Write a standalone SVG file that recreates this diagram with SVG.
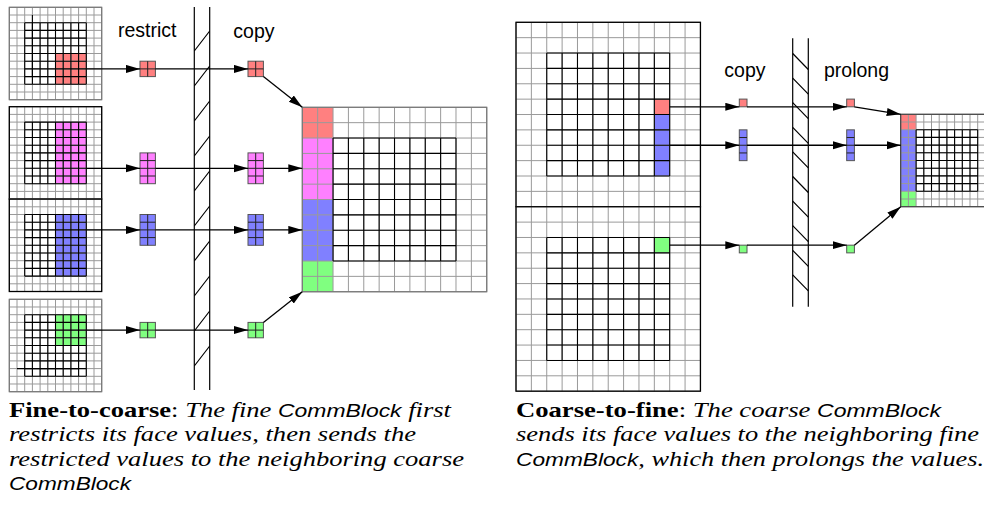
<svg xmlns="http://www.w3.org/2000/svg" xmlns:xlink="http://www.w3.org/1999/xlink" width="984" height="523" viewBox="0 0 984 523">
<style>
.g{stroke:#9a9a9a;stroke-width:1;fill:none}
.k{stroke:#000;stroke-width:1.1;fill:none}
.bd{fill:none;stroke:#777;stroke-width:1.2}
.bk{fill:none;stroke:#000;stroke-width:1.3}
.sb{stroke:#555;stroke-width:1}
.sl{stroke:#222;stroke-width:1;fill:none}
.conn{stroke:#000;stroke-width:1.3;fill:none;marker-end:url(#ah)}
.wall{stroke:#000;stroke-width:1.2;fill:none}
.lbl{font-family:"Liberation Sans",Arial,sans-serif;font-size:19.5px;fill:#000}
.cap{font-family:"Liberation Serif","Times New Roman",serif;font-size:22px;font-style:italic;fill:#000}
.b{font-weight:bold;font-style:normal}
.n{font-style:normal}
.cb{font-family:"Liberation Sans",Arial,sans-serif;font-style:italic;font-size:19px}
.r{fill:#ff8080}.m{fill:#ff80ff}.u{fill:#8080ff}.e{fill:#80ff80}
</style>
<defs>
<marker id="ah" markerUnits="userSpaceOnUse" markerWidth="15" markerHeight="9" refX="14" refY="4" orient="auto"><path d="M0,0L14,4L0,8z" fill="#000"/></marker>
<path id="fg12" class="g" d="M0,0v92.4m7.7,-92.4v92.4m7.7,-92.4v92.4m7.7,-92.4v92.4m7.7,-92.4v92.4m7.7,-92.4v92.4m7.7,-92.4v92.4m7.7,-92.4v92.4m7.7,-92.4v92.4m7.7,-92.4v92.4m7.7,-92.4v92.4m7.7,-92.4v92.4m7.7,-92.4v92.4M0,0h92.4m-92.4,7.7h92.4m-92.4,7.7h92.4m-92.4,7.7h92.4m-92.4,7.7h92.4m-92.4,7.7h92.4m-92.4,7.7h92.4m-92.4,7.7h92.4m-92.4,7.7h92.4m-92.4,7.7h92.4m-92.4,7.7h92.4m-92.4,7.7h92.4m-92.4,7.7h92.4"/>
<path id="fi8" class="k" d="M0,0v61.6m7.7,-61.6v61.6m7.7,-61.6v61.6m7.7,-61.6v61.6m7.7,-61.6v61.6m7.7,-61.6v61.6m7.7,-61.6v61.6m7.7,-61.6v61.6m7.7,-61.6v61.6M0,0h61.6m-61.6,7.7h61.6m-61.6,7.7h61.6m-61.6,7.7h61.6m-61.6,7.7h61.6m-61.6,7.7h61.6m-61.6,7.7h61.6m-61.6,7.7h61.6m-61.6,7.7h61.6"/>
<path id="cg12" class="g" d="M0,0v184.44m15.37,-184.44v184.44m15.37,-184.44v184.44m15.37,-184.44v184.44m15.37,-184.44v184.44m15.37,-184.44v184.44m15.37,-184.44v184.44m15.37,-184.44v184.44m15.37,-184.44v184.44m15.37,-184.44v184.44m15.37,-184.44v184.44m15.37,-184.44v184.44m15.37,-184.44v184.44M0,0h184.44m-184.44,15.37h184.44m-184.44,15.37h184.44m-184.44,15.37h184.44m-184.44,15.37h184.44m-184.44,15.37h184.44m-184.44,15.37h184.44m-184.44,15.37h184.44m-184.44,15.37h184.44m-184.44,15.37h184.44m-184.44,15.37h184.44m-184.44,15.37h184.44m-184.44,15.37h184.44"/>
<path id="ci8" class="k" d="M0,0v122.96m15.37,-122.96v122.96m15.37,-122.96v122.96m15.37,-122.96v122.96m15.37,-122.96v122.96m15.37,-122.96v122.96m15.37,-122.96v122.96m15.37,-122.96v122.96m15.37,-122.96v122.96M0,0h122.96m-122.96,15.37h122.96m-122.96,15.37h122.96m-122.96,15.37h122.96m-122.96,15.37h122.96m-122.96,15.37h122.96m-122.96,15.37h122.96m-122.96,15.37h122.96m-122.96,15.37h122.96"/>
</defs>
<rect width="984" height="523" fill="#fff"/>

<!-- Left panel fine blocks -->
<g id="fine-red" transform="translate(9.3,7.3)">
<rect width="92.4" height="92.4" fill="#fff"/>
<rect class="r" x="46.2" y="46.2" width="30.8" height="30.8"/>
<use xlink:href="#fg12"/>
<use xlink:href="#fi8" x="15.4" y="15.4"/>
<path class="k" d="M23.1,7.7V69.3"/>
<rect class="bd" width="92.4" height="92.4"/>
</g>
<g id="fine-magenta" transform="translate(9.3,106.7)">
<rect width="92.4" height="92.4" fill="#fff"/>
<rect class="m" x="46.2" y="15.4" width="30.8" height="61.6"/>
<use xlink:href="#fg12"/>
<use xlink:href="#fi8" x="15.4" y="15.4"/>
<rect class="bk" width="92.4" height="92.4"/>
</g>
<g id="fine-blue" transform="translate(9.3,199.1)">
<rect width="92.4" height="92.4" fill="#fff"/>
<rect class="u" x="46.2" y="15.4" width="30.8" height="61.6"/>
<use xlink:href="#fg12"/>
<use xlink:href="#fi8" x="15.4" y="15.4"/>
<rect class="bk" width="92.4" height="92.4"/>
</g>
<g id="fine-green" transform="translate(9.3,299.3)">
<rect width="92.4" height="92.4" fill="#fff"/>
<rect class="e" x="46.2" y="15.4" width="30.8" height="30.8"/>
<use xlink:href="#fg12"/>
<use xlink:href="#fi8" x="15.4" y="15.4"/>
<path class="k" d="M7.7,69.3H69.3"/>
<rect class="bd" width="92.4" height="92.4"/>
</g>

<!-- restricted blocks -->
<g id="restrict-red"><rect class="r sb" x="140" y="61.2" width="15.4" height="15.4"/><path class="sl" d="M147.7,61.2v15.4M140,68.9h15.4"/></g>
<g id="restrict-magenta"><rect class="m sb" x="140" y="152.9" width="15.4" height="30.8"/><path class="sl" d="M147.7,152.9v30.8M140,160.6h15.4M140,168.3h15.4M140,176h15.4"/></g>
<g id="restrict-blue"><rect class="u sb" x="140" y="214.5" width="15.4" height="30.8"/><path class="sl" d="M147.7,214.5v30.8M140,222.2h15.4M140,229.9h15.4M140,237.6h15.4"/></g>
<g id="restrict-green"><rect class="e sb" x="140" y="322.4" width="15.4" height="15.4"/><path class="sl" d="M147.7,322.4v15.4M140,330.1h15.4"/></g>

<!-- copy blocks left -->
<g id="copyL-red"><rect class="r sb" x="248" y="61.2" width="15.4" height="15.4"/><path class="sl" d="M255.7,61.2v15.4M248,68.9h15.4"/></g>
<g id="copyL-magenta"><rect class="m sb" x="248" y="152.9" width="15.4" height="30.8"/><path class="sl" d="M255.7,152.9v30.8M248,160.6h15.4M248,168.3h15.4M248,176h15.4"/></g>
<g id="copyL-blue"><rect class="u sb" x="248" y="214.5" width="15.4" height="30.8"/><path class="sl" d="M255.7,214.5v30.8M248,222.2h15.4M248,229.9h15.4M248,237.6h15.4"/></g>
<g id="copyL-green"><rect class="e sb" x="248" y="322.4" width="15.4" height="15.4"/><path class="sl" d="M255.7,322.4v15.4M248,330.1h15.4"/></g>

<!-- coarse block left -->
<g id="coarse-left" transform="translate(302.3,107.3)">
<rect width="184.44" height="184.44" fill="#fff"/>
<rect class="r" x="0" y="0" width="30.74" height="30.74"/>
<rect class="m" x="0" y="30.74" width="30.74" height="61.48"/>
<rect class="u" x="0" y="92.22" width="30.74" height="61.48"/>
<rect class="e" x="0" y="153.7" width="30.74" height="30.74"/>
<use xlink:href="#cg12"/>
<use xlink:href="#ci8" x="30.74" y="30.74"/>
<rect class="bd" width="184.44" height="184.44"/>
</g>

<!-- left wall -->
<g id="wall-left" class="wall">
<path d="M194.3,7V390M209.7,7V390"/>
<path d="M194.3,51L209.7,31M194.3,86L209.7,66M194.3,121L209.7,101M194.3,156L209.7,136M194.3,191L209.7,171M194.3,226L209.7,206M194.3,261L209.7,241M194.3,296L209.7,276M194.3,331L209.7,311M194.3,366L209.7,346"/>
</g>

<!-- right panel coarse blocks -->
<g id="coarse-top" transform="translate(516,22.3)">
<rect width="184.44" height="184.44" fill="#fff"/>
<rect class="r" x="138.33" y="76.85" width="15.37" height="15.37"/>
<rect class="u" x="138.33" y="92.22" width="15.37" height="61.48"/>
<use xlink:href="#cg12"/>
<use xlink:href="#ci8" x="30.74" y="30.74"/>
<rect class="bk" width="184.44" height="184.44"/>
</g>
<g id="coarse-bottom" transform="translate(516,206.74)">
<rect width="184.44" height="184.44" fill="#fff"/>
<rect class="e" x="138.33" y="30.74" width="15.37" height="15.37"/>
<use xlink:href="#cg12"/>
<use xlink:href="#ci8" x="30.74" y="30.74"/>
<rect class="bk" width="184.44" height="184.44"/>
</g>

<!-- copy blocks right -->
<g id="copyR-red"><rect class="r sb" x="739.3" y="99.1" width="7.7" height="7.7"/></g>
<g id="copyR-blue"><rect class="u sb" x="739.3" y="129.84" width="7.7" height="30.8"/><path class="sl" d="M739.3,137.54h7.7M739.3,145.24h7.7M739.3,152.94h7.7"/></g>
<g id="copyR-green"><rect class="e sb" x="739.3" y="245.17" width="7.7" height="7.7"/></g>

<!-- prolong blocks -->
<g id="prolong-red"><rect class="r sb" x="846.7" y="99.1" width="7.7" height="7.7"/></g>
<g id="prolong-blue"><rect class="u sb" x="846.7" y="129.84" width="7.7" height="30.8"/><path class="sl" d="M846.7,137.54h7.7M846.7,145.24h7.7M846.7,152.94h7.7"/></g>
<g id="prolong-green"><rect class="e sb" x="846.7" y="245.17" width="7.7" height="7.7"/></g>

<!-- right fine block -->
<g id="fine-right" transform="translate(900.7,114.3)">
<rect width="92.4" height="92.4" fill="#fff"/>
<rect class="r" x="0" y="0" width="15.4" height="15.4"/>
<rect class="u" x="0" y="15.4" width="15.4" height="61.6"/>
<rect class="e" x="0" y="77" width="15.4" height="15.4"/>
<use xlink:href="#fg12"/>
<use xlink:href="#fi8" x="15.4" y="15.4"/>
<rect fill="none" stroke="#444" stroke-width="1.2" width="92.4" height="92.4"/>
</g>

<!-- right wall -->
<g id="wall-right" class="wall">
<path d="M792.7,38.3V306.7M808.3,38.3V306.7"/>
<path d="M792.7,53.5L808.3,69.5M792.7,78.1L808.3,94.1M792.7,102.7L808.3,118.7M792.7,127.3L808.3,143.3M792.7,151.9L808.3,167.9M792.7,176.5L808.3,192.5M792.7,201.1L808.3,217.1M792.7,225.7L808.3,241.7M792.7,250.3L808.3,266.3M792.7,274.9L808.3,290.9"/>
</g>

<!-- connectors -->
<g id="connectors">
<path class="conn" d="M86.3,68.9H140"/>
<path class="conn" d="M155.4,68.9H248"/>
<path class="conn" d="M263.4,76.6L302.3,107.3"/>
<path class="conn" d="M86.3,168.3H140"/>
<path class="conn" d="M155.4,168.3H248"/>
<path class="conn" d="M263.4,168.3H302.3"/>
<path class="conn" d="M86.3,229.9H140"/>
<path class="conn" d="M155.4,229.9H248"/>
<path class="conn" d="M263.4,229.9H302.3"/>
<path class="conn" d="M86.3,330.1H140"/>
<path class="conn" d="M155.4,330.1H248"/>
<path class="conn" d="M263.4,322.4L302.3,291.74"/>
<path class="conn" d="M669.7,106.8H739.3"/>
<path class="conn" d="M747,106.8H846.7"/>
<path class="conn" d="M854.4,106.8L900.7,114.3"/>
<path class="conn" d="M669.7,145.24H739.3"/>
<path class="conn" d="M747,145.24H846.7"/>
<path class="conn" d="M854.4,145.24H900.7"/>
<path class="conn" d="M669.7,245.17H739.3"/>
<path class="conn" d="M747,245.17H846.7"/>
<path class="conn" d="M854.4,245.17L900.7,206.7"/>
</g>

<!-- labels -->
<text class="lbl" x="118" y="37.3">restrict</text>
<text class="lbl" x="233.3" y="37.5">copy</text>
<text class="lbl" x="724.3" y="76.7">copy</text>
<text class="lbl" x="824" y="76.7">prolong</text>

<!-- captions -->
<text class="cap" x="9" y="417" textLength="442" lengthAdjust="spacingAndGlyphs"><tspan class="b">Fine-to-coarse</tspan><tspan class="n">: </tspan>The fine <tspan class="cb">CommBlock</tspan> first</text>
<text class="cap" x="9" y="441.4" textLength="407" lengthAdjust="spacingAndGlyphs">restricts its face values, then sends the</text>
<text class="cap" x="9" y="465.8" textLength="455" lengthAdjust="spacingAndGlyphs">restricted values to the neighboring coarse</text>
<text class="cap" x="9" y="490.2" textLength="122" lengthAdjust="spacingAndGlyphs"><tspan class="cb">CommBlock</tspan></text>
<text class="cap" x="516" y="417" textLength="425" lengthAdjust="spacingAndGlyphs"><tspan class="b">Coarse-to-fine</tspan><tspan class="n">: </tspan>The coarse <tspan class="cb">CommBlock</tspan></text>
<text class="cap" x="516" y="441.4" textLength="463" lengthAdjust="spacingAndGlyphs">sends its face values to the neighboring fine</text>
<text class="cap" x="516" y="465.8" textLength="468" lengthAdjust="spacingAndGlyphs"><tspan class="cb">CommBlock</tspan>, which then prolongs the values.</text>
</svg>
